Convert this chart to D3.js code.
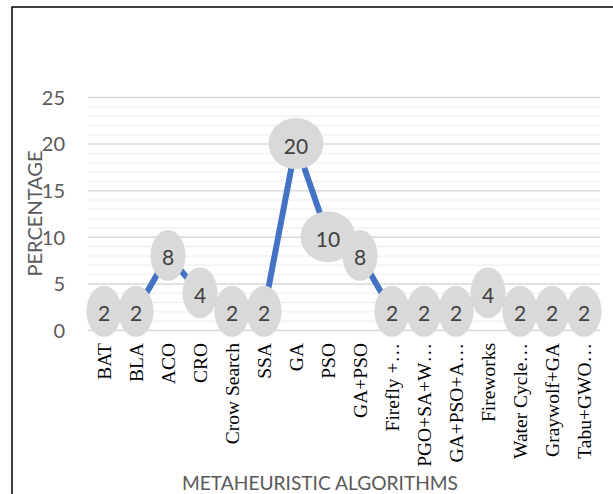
<!DOCTYPE html>
<html>
<head>
<meta charset="utf-8">
<script src="https://cdn.jsdelivr.net/npm/d3@7"></script>
<style>
  html, body { margin: 0; padding: 0; background: #fff; }
  svg { display: block; }
</style>
</head>
<body>
<svg id="chart" width="613" height="494"></svg>
<script>
const categories = ["BAT", "BLA", "ACO", "CRO", "Crow Search", "SSA", "GA", "PSO", "GA+PSO",
  "Firefly +…", "PGO+SA+W…", "GA+PSO+A…", "Fireworks", "Water Cycle…", "Graywolf+GA", "Tabu+GWO…"];
const percentages = [2, 2, 8, 4, 2, 2, 20, 10, 8, 2, 2, 2, 4, 2, 2, 2];
const yTicks = [0, 5, 10, 15, 20, 25];
const yTitle = "PERCENTAGE";
const xTitle = "METAHEURISTIC ALGORITHMS";

const svg = d3.select("#chart");
const pLeft = 88, pRight = 600, pTop = 97, pBottom = 330;

const x = d3.scaleBand().domain(categories).range([pLeft, pRight]).padding(0);
const y = d3.scaleLinear().domain([0, 25]).range([pBottom, pTop]);
const labelFont = "Lato, 'Open Sans', sans-serif";

// frame
svg.append("rect").attr("x", 12).attr("y", 7).attr("width", 700).attr("height", 600)
  .attr("fill", "none").attr("stroke", "#000").attr("stroke-width", 1.5);

// minor gridlines
const minor = d3.range(0, 26).filter(v => v % 5 !== 0);
svg.append("g").selectAll("line").data(minor).join("line")
  .attr("x1", pLeft).attr("x2", pRight)
  .attr("y1", d => y(d) + 0.5).attr("y2", d => y(d) + 0.5)
  .attr("stroke", "#f2f2f2").attr("stroke-width", 1.5);

// major gridlines via axis
const yAxis = d3.axisLeft(y).tickValues(yTicks).tickSize(-(pRight - pLeft)).tickPadding(23);
const gy = svg.append("g").attr("transform", `translate(${pLeft},0)`).call(yAxis);
gy.select(".domain").remove();
gy.selectAll(".tick line").attr("stroke", "#d9d9d9").attr("stroke-width", 1.5);
gy.selectAll(".tick text").attr("fill", "#595959").attr("dy", "0.36em")
  .style("font-family", labelFont).style("font-size", "20px");

// x axis labels
const xAxis = d3.axisBottom(x).tickSize(0).tickPadding(0);
const gx = svg.append("g").attr("transform", `translate(0,${pBottom})`).call(xAxis);
gx.select(".domain").remove();

// line
const line = d3.line().x((d, i) => x(categories[i]) + x.bandwidth() / 2).y(d => y(d));
svg.append("path").datum(percentages).attr("d", line)
  .attr("fill", "none").attr("stroke", "#4472C4").attr("stroke-width", 6)
  .attr("stroke-linejoin", "round");

// bubbles
const bubbleG = svg.append("g");
percentages.forEach((v, i) => {
  const cx = x(categories[i]) + x.bandwidth() / 2, cy = y(v);
  const g = bubbleG.append("g");
  const ell = g.append("ellipse").attr("cx", cx).attr("cy", cy).attr("fill", "#d9d9d9");
  const t = g.append("text").attr("x", cx).attr("y", cy + 1.5).attr("text-anchor", "middle")
    .attr("dominant-baseline", "central").attr("fill", "#404040")
    .style("font-family", labelFont).style("font-size", "21px").text(v);
  const w = t.node().getComputedTextLength();
  ell.attr("rx", 7.5 + 0.82 * w).attr("ry", 25.5);
});

// x tick text styling (drawn on top)
gx.raise();
gx.selectAll(".tick text")
  .attr("transform", "rotate(-90)")
  .attr("text-anchor", "end")
  .attr("x", -13).attr("y", 0).attr("dy", "0.35em")
  .attr("fill", "#000")
  .style("font-family", "'Liberation Serif', 'Times New Roman', serif")
  .style("font-size", "19.5px");

// axis titles
svg.append("text").attr("transform", `translate(42,${(pTop + pBottom) / 2}) rotate(-90)`)
  .attr("text-anchor", "middle").attr("fill", "#595959")
  .style("font-family", labelFont).style("font-size", "20px").text(yTitle);

svg.append("text").attr("x", 320).attr("y", 490)
  .attr("text-anchor", "middle").attr("fill", "#595959")
  .attr("textLength", 276).attr("lengthAdjust", "spacingAndGlyphs")
  .style("font-family", labelFont).style("font-size", "20px").text(xTitle);
</script>
</body>
</html>
